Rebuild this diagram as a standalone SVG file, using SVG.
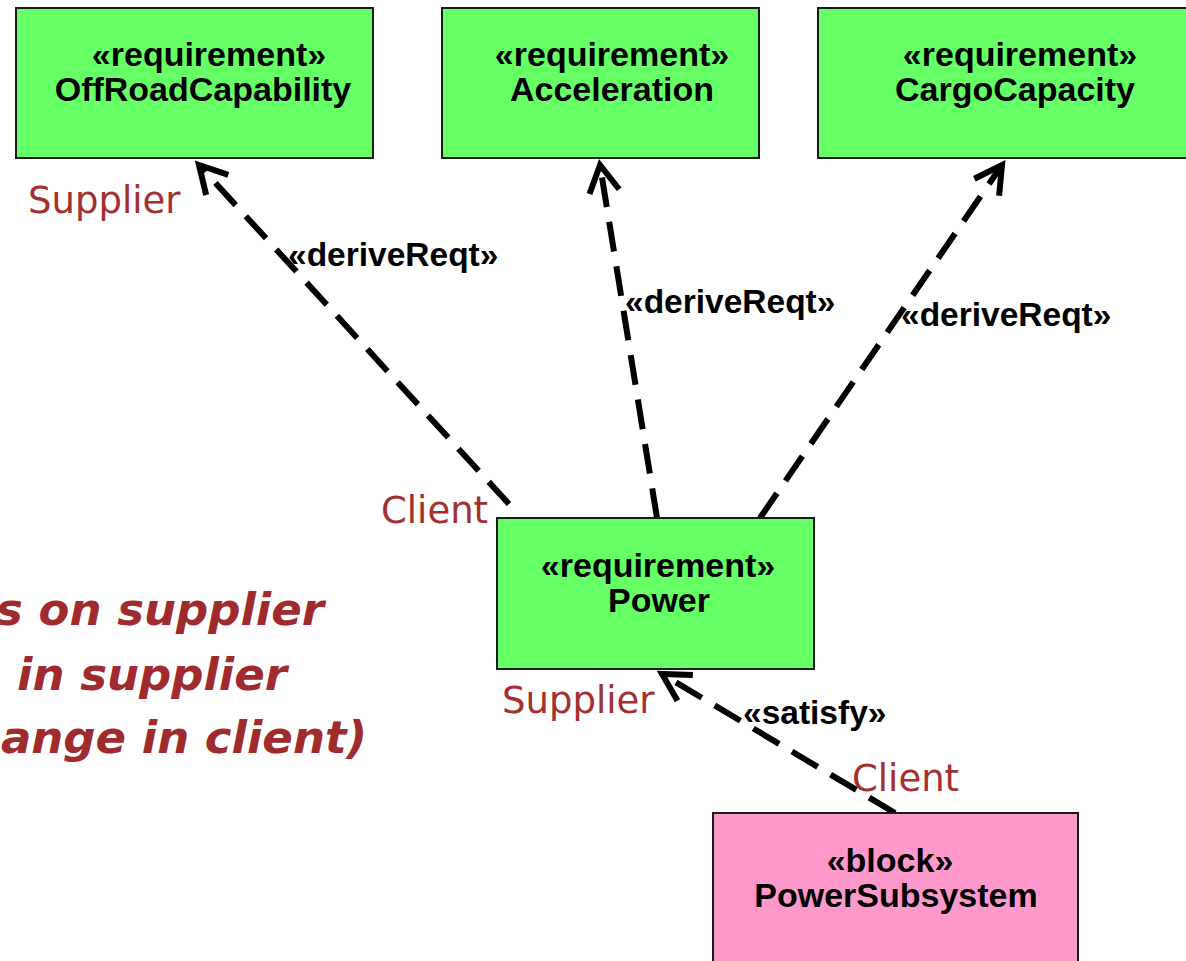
<svg xmlns="http://www.w3.org/2000/svg" width="1186" height="961" viewBox="0 0 1186 961">
  <defs>
    <style>
      .req { fill: #66ff66; stroke: #1a1a1a; stroke-width: 2; }
      .blk { fill: #ff99cc; stroke: #1a1a1a; stroke-width: 2; }
      .nt { font-family: "Liberation Sans", Arial, sans-serif; font-weight: bold; font-size: 34px; fill: #000; text-anchor: middle; }
      .lbl { font-family: "Liberation Sans", Arial, sans-serif; font-weight: bold; font-size: 33.5px; fill: #000; }
      .role { font-family: "DejaVu Sans", Verdana, sans-serif; font-size: 37px; fill: #a3302f; }
      .note { font-family: "DejaVu Sans", Verdana, sans-serif; font-weight: bold; font-style: italic; font-size: 45px; fill: #a02b2e; text-anchor: end; }
      .dep { fill: none; stroke: #000; stroke-width: 6; stroke-dasharray: 30 15; marker-end: url(#open); }
    </style>
    <marker id="open" markerUnits="userSpaceOnUse" markerWidth="40" markerHeight="40" viewBox="-34 -20 40 40" refX="0" refY="0" orient="auto" overflow="visible">
      <path d="M -27 -15 L 0 0 L -27 15" fill="none" stroke="#000" stroke-width="6" stroke-dasharray="none" stroke-linejoin="miter"/>
    </marker>
  </defs>

  <!-- dependency connectors -->
  <g id="connectors">
    <path class="dep" d="M 509 504 L 199 165"/>
    <path class="dep" d="M 657 518 L 600 165"/>
    <path class="dep" d="M 760 518 L 1002 165"/>
    <path class="dep" d="M 895 813 L 662 674"/>
    <text class="lbl" x="288" y="266">«deriveReqt»</text>
    <text class="lbl" x="625" y="313">«deriveReqt»</text>
    <text class="lbl" x="901" y="326">«deriveReqt»</text>
    <text class="lbl" x="743" y="724">«satisfy»</text>
  </g>

  <g id="OffRoadCapability">
    <rect class="req" x="16" y="8" width="357" height="150"/>
    <text class="nt" x="209" y="66">«requirement»</text>
    <text class="nt" x="203" y="101">OffRoadCapability</text>
  </g>

  <g id="Acceleration">
    <rect class="req" x="442" y="8" width="317" height="150"/>
    <text class="nt" x="612" y="66">«requirement»</text>
    <text class="nt" x="612" y="101">Acceleration</text>
  </g>

  <g id="CargoCapacity">
    <rect class="req" x="818" y="8" width="380" height="150"/>
    <text class="nt" x="1020" y="66">«requirement»</text>
    <text class="nt" x="1015" y="101">CargoCapacity</text>
  </g>

  <g id="Power">
    <rect class="req" x="497" y="518" width="317" height="151"/>
    <text class="nt" x="658" y="577">«requirement»</text>
    <text class="nt" x="659" y="612">Power</text>
  </g>

  <g id="PowerSubsystem">
    <rect class="blk" x="713" y="813" width="365" height="160"/>
    <text class="nt" x="890" y="872">«block»</text>
    <text class="nt" x="896" y="907">PowerSubsystem</text>
  </g>

  <!-- role names at the connector ends -->
  <g id="roles">
    <text class="role" x="28" y="213">Supplier</text>
    <text class="role" x="381" y="523">Client</text>
    <text class="role" x="502" y="713">Supplier</text>
    <text class="role" x="852" y="791">Client</text>
  </g>

  <!-- explanatory note, running off the left edge -->
  <g id="note">
    <text class="note" x="324" y="625">s on supplier</text>
    <text class="note" x="287" y="690">in supplier</text>
    <text class="note" x="367" y="753">ange in client)</text>
  </g>
</svg>
